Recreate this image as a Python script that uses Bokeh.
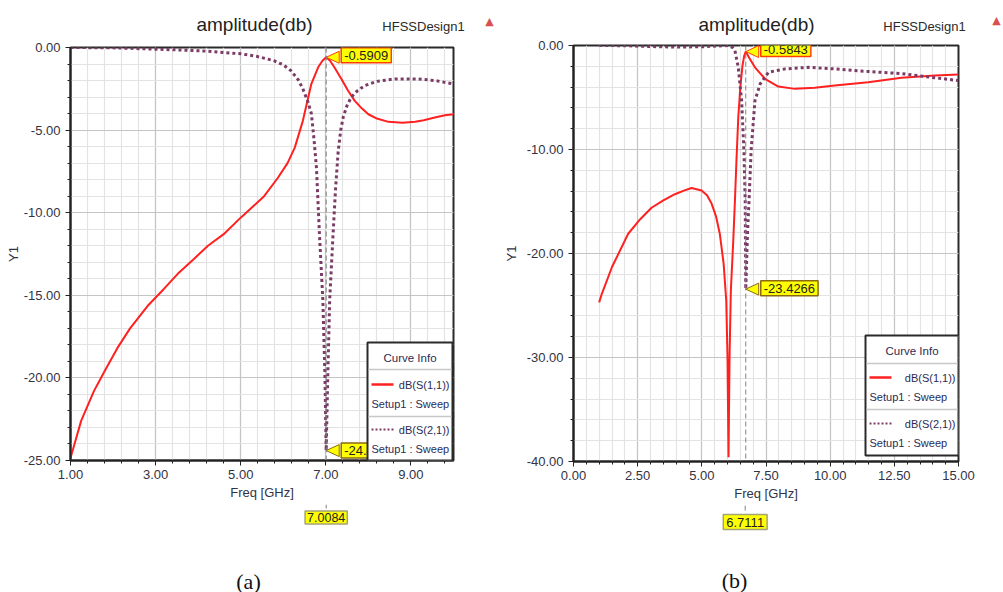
import numpy as np
from math import pi
from bokeh.plotting import figure
from bokeh.models import Plot, Range1d, FixedTicker, NumeralTickFormatter, Label, Arrow, BoxAnnotation
from bokeh.layouts import row, column
from bokeh.embed import file_html
from bokeh.resources import INLINE

# ---------------- data: panel (a) ----------------
a_freq_s11 = [1.0, 1.25, 1.55, 1.8, 2.1, 2.4, 2.81, 3.2, 3.52, 3.9, 4.23, 4.6, 5.0, 5.3, 5.55,
              5.87, 6.1, 6.27, 6.46, 6.66, 6.82, 6.92, 7.0084, 7.1, 7.2, 7.37, 7.52, 7.68, 7.85,
              8.0, 8.2, 8.47, 8.8, 9.1, 9.3, 9.56, 9.8, 10.0]
a_s11 = [-24.85, -22.6, -20.8, -19.6, -18.2, -17.0, -15.65, -14.6, -13.7, -12.8, -12.0, -11.3,
         -10.3, -9.6, -9.0, -7.9, -7.0, -6.06, -4.44, -2.2, -1.2, -0.8, -0.5909, -0.8, -1.2,
         -1.92, -2.6, -3.23, -3.7, -4.04, -4.3, -4.5, -4.55, -4.5, -4.4, -4.24, -4.1, -4.04]
a_freq_s21 = [1.0, 2.0, 3.0, 4.07, 5.0, 5.4, 5.78, 6.0, 6.18, 6.35, 6.46, 6.58, 6.66, 6.72, 6.78,
              6.85, 6.93, 6.98, 7.0084, 7.04, 7.09, 7.17, 7.23, 7.29, 7.35, 7.41, 7.5, 7.6, 7.75,
              7.92, 8.2, 8.62, 9.15, 9.56, 10.0]
a_s21 = [0.0, -0.02, -0.1, -0.2, -0.38, -0.55, -0.8, -1.05, -1.4, -1.95, -2.5, -3.3, -4.0, -5.5,
         -7.3, -11.3, -15.3, -20.0, -24.4, -20.5, -15.3, -11.3, -8.5, -6.3, -5.0, -4.2, -3.5,
         -3.0, -2.6, -2.3, -2.05, -1.9, -1.9, -2.0, -2.2]
a_marker_freq = 7.0084
a_marker_s11 = -0.5909
a_marker_s21 = -24.4
a_x_ticks = [1, 3, 5, 7, 9]
a_y_ticks = [0, -5, -10, -15, -20, -25]

# ---------------- data: panel (b) ----------------
b_freq_s11 = [1.0, 1.1, 1.5, 2.13, 2.6, 3.04, 3.5, 3.95, 4.3, 4.6, 4.99, 5.2, 5.38, 5.55, 5.7,
              5.85, 5.95, 6.0, 6.04, 6.08, 6.13, 6.22, 6.29, 6.35, 6.42, 6.5, 6.58, 6.65, 6.7111,
              6.85, 7.07, 7.46, 7.98, 8.63, 9.4, 10.18, 11.48, 12.78, 14.08, 15.0]
b_s11 = [-24.7, -23.9, -21.3, -18.1, -16.7, -15.6, -14.9, -14.3, -13.95, -13.7, -13.95, -14.4,
         -15.2, -16.4, -18.1, -21.0, -24.5, -30.0, -39.6, -30.0, -23.6, -19.0, -14.9, -11.0,
         -6.9, -4.0, -2.0, -1.0, -0.5843, -1.2, -2.1, -3.2, -3.95, -4.17, -4.07, -3.85, -3.53,
         -3.1, -2.89, -2.8]
b_freq_s21 = [1.0, 2.0, 3.0, 4.0, 5.0, 5.6, 6.03, 6.2, 6.29, 6.42, 6.55, 6.64, 6.69, 6.7111,
              6.78, 6.84, 6.92, 7.07, 7.27, 7.6, 8.24, 9.15, 10.18, 11.48, 12.78, 14.08, 15.0]
b_s21 = [0.0, -0.02, -0.1, -0.15, -0.12, -0.05, 0.0, -0.2, -0.5, -2.1, -5.3, -10.1, -15.0,
         -23.4266, -18.0, -14.9, -10.1, -5.3, -3.7, -2.57, -2.25, -2.1, -2.25, -2.5, -2.7,
         -3.1, -3.37]
b_marker_freq = 6.7111
b_marker_s11 = -0.5843
b_marker_s21 = -23.4266
b_x_ticks = [0, 2.5, 5, 7.5, 10, 12.5, 15]
b_y_ticks = [0, -10, -20, -30, -40]

FONT = "Liberation Sans"
TXT = "#333344"
NAVY = "#2b2b55"
RED = "#ff2020"
PURPLE = "#7a3c66"
FA = {"frame_align": False} if "frame_align" in Plot.properties() else {}


def lab(p, x, y, text, size, color=TXT, align="center", base="middle", font=FONT, angle=0.0,
        units="screen", **kw):
    p.add_layout(Label(x=x, y=y, x_units=units, y_units=units, text=text,
                       text_font=font, text_font_size=f"{size}px", text_color=color,
                       text_align=align, text_baseline=base, angle=angle, **kw))


def seg(p, x0, y0, x1, y1, color, width=1.0, dash="solid", units="screen"):
    p.add_layout(Arrow(end=None, x_start=x0, y_start=y0, x_end=x1, y_end=y1,
                       start_units=units, end_units=units, line_color=color,
                       line_width=width, line_dash=dash))


def strip(width, height, xr):
    s = figure(width=width, height=height, output_backend="svg", toolbar_location=None,
               x_range=Range1d(*xr), y_range=Range1d(0, height),
               x_axis_type=None, y_axis_type=None,
               min_border_left=0, min_border_right=0, min_border_top=0, min_border_bottom=0,
               outline_line_color=None, background_fill_color="white", border_fill_color="white",
               **FA)
    s.grid.visible = False
    return s


def panel(width, top_h, bot_h, mb, fh, xr, yr, xt, xminor_step, yt, yminor_step,
          f11, s11, f21, s21, mfreq, m11, m21, m21_text, geo):
    fw = width - mb[0] - mb[1]
    pxx = fw / (xr[1] - xr[0])
    pxy = fh / (yr[1] - yr[0])
    main_h = mb[2] + fh + mb[3]
    p = figure(width=width, height=main_h, output_backend="svg", toolbar_location=None,
               x_range=Range1d(*xr), y_range=Range1d(*yr),
               min_border_left=mb[0], min_border_right=mb[1],
               min_border_top=mb[2], min_border_bottom=mb[3],
               background_fill_color="white", border_fill_color="white",
               outline_line_color="#2a2a2a", outline_line_width=2, **FA)
    xtick = FixedTicker(ticks=xt, minor_ticks=list(np.arange(xr[0], xr[1] + 1e-6, xminor_step)))
    ytick = FixedTicker(ticks=yt, minor_ticks=list(np.arange(yr[0], yr[1] + 1e-6, yminor_step)))
    p.xaxis.ticker = xtick
    p.yaxis.ticker = ytick
    p.xgrid.ticker = xtick
    p.ygrid.ticker = ytick
    for ax in (p.xaxis[0], p.yaxis[0]):
        ax.formatter = NumeralTickFormatter(format="0.00")
        ax.axis_line_color = "#222222"
        ax.axis_line_width = 2
        ax.major_tick_line_color = "#222222"
        ax.minor_tick_line_color = "#222222"
        ax.major_tick_in = 0
        ax.major_tick_out = 5
        ax.minor_tick_in = 0
        ax.minor_tick_out = 3
        ax.major_label_text_font = FONT
        ax.major_label_text_font_size = "13px"
        ax.major_label_text_color = TXT
        ax.major_label_standoff = 5
        ax.axis_label_text_font = FONT
        ax.axis_label_text_font_size = "13px"
        ax.axis_label_text_font_style = "normal"
        ax.axis_label_text_color = TXT
    p.xaxis.major_label_standoff = 4
    p.xaxis.axis_label = "Freq [GHz]"
    p.xaxis.axis_label_standoff = 3
    p.yaxis.axis_label = "Y1"
    p.yaxis.axis_label_standoff = geo["y1_standoff"]
    for g in (p.xgrid[0], p.ygrid[0]):
        g.grid_line_color = "#c4c4c4"
        g.grid_line_width = 1.2
        g.minor_grid_line_color = "#e3e3e3"
        g.minor_grid_line_width = 1.2

    p.line(f11, s11, line_color=RED, line_width=2)
    p.line(f21, s21, line_color=PURPLE, line_width=3, line_dash="3 3")

    # marker line inside the frame
    seg(p, mfreq, yr[1], mfreq, yr[0], "#808080", 1, "5 3", units="data")

    # pointer triangles + callouts
    for val, txt, border, yoff in ((m11, f"{m11:.4f}", "#ff4000", geo["yoff11"]),
                                   (m21, m21_text, "#8b6914", geo["yoff21"])):
        p.patch([mfreq, mfreq + 13 / pxx, mfreq + 13 / pxx],
                [val, val + 6 / pxy, val - 6 / pxy],
                fill_color="#ffff00", line_color=border, line_width=1)
        p.add_layout(Label(x=mfreq, y=val, text=txt, x_offset=15, y_offset=yoff,
                           text_font=FONT, text_font_size="13px", text_color="#222222",
                           text_align="left", text_baseline="middle",
                           background_fill_color="#ffff00", border_line_color=border,
                           border_line_width=1.5, padding=3))

    # legend (kept inside the frame)
    L, B, T = geo["leg"]
    R = fw - 1
    p.add_layout(BoxAnnotation(left=L, right=R, bottom=B, top=T, left_units="screen",
                               right_units="screen", bottom_units="screen", top_units="screen",
                               fill_color="white", fill_alpha=1.0, line_color="#2a2a2a",
                               line_width=2, line_alpha=1.0))
    ys = geo["leg_y"]
    lab(p, (L + R) / 2, ys[0], "Curve Info", 11.5, NAVY)
    seg(p, L + 1, ys[1], R - 1, ys[1], "#c8c8c8", 1.5)
    seg(p, L + 4, ys[2], L + 26, ys[2], RED, 2.5)
    lab(p, R - 3, ys[2], "dB(S(1,1))", 11, NAVY, align="right")
    lab(p, L + 4, ys[3], "Setup1 : Sweep", 11, NAVY, align="left")
    seg(p, L + 1, ys[4], R - 1, ys[4], "#c8c8c8", 1.5)
    seg(p, L + 4, ys[5], L + 26, ys[5], PURPLE, 2, "2 2")
    lab(p, R - 3, ys[5], "dB(S(2,1))", 11, NAVY, align="right")
    lab(p, L + 4, ys[6], "Setup1 : Sweep", 11, NAVY, align="left")

    # top strip: title texts
    top = strip(width, top_h, (0, width))
    lab(top, geo["title"][0], geo["title"][1], "amplitude(db)", 19, "#222222")
    lab(top, geo["hfss"][0], geo["hfss"][1], "HFSSDesign1", 13, "#2a2a2a")
    lab(top, geo["icon"][0], geo["icon"][1], "▲", 11, "#d85050", font="DejaVu Sans")

    # bottom strip: marker value and caption (x scale aligned with the main frame)
    sx0 = xr[0] - mb[0] / pxx
    bot = strip(width, bot_h, (sx0, sx0 + width / pxx))
    box_top, box_c, fs, pad = geo["xbox"]
    seg(bot, mfreq, bot_h, mfreq, bot_h - box_top, "#808080", 1, "5 3", units="data")
    bot.add_layout(Label(x=mfreq, y=bot_h - box_c, x_units="data", y_units="screen",
                         text=f"{mfreq:.4f}", text_font=FONT, text_font_size=f"{fs}px",
                         text_color="#222222", text_align="center", text_baseline="middle",
                         background_fill_color="#ffff00", border_line_color="#a3a37a",
                         border_line_width=1.5, padding=pad))
    lab(bot, geo["cap"][0], geo["cap"][1], geo["cap_text"], 22, "#111111", base="top",
        font="Liberation Serif")
    return column(top, p, bot)


geo_a = dict(title=(254, 15), hfss=(423, 13), icon=(489, 18), cap=(248, 24), cap_text="(a)",
             leg=(297, 0, 118), leg_y=(103, 91, 76, 57, 44, 31, 12), xbox=(4, 13, 12.5, 2),
             yoff11=2, yoff21=0, y1_standoff=0)
geo_b = dict(title=(256, 13), hfss=(424, 11), icon=(496, 17), cap=(234, 25), cap_text="(b)",
             leg=(292, 6, 126), leg_y=(111, 98, 84, 65, 52, 38, 19), xbox=(5, 16.5, 13, 3),
             yoff11=2.5, yoff21=1, y1_standoff=5)

pa = panel(500, 39, 88, (70, 47, 8, 44), 413, (1, 10), (-25, 0), a_x_ticks, 0.4, a_y_ticks, 1,
           a_freq_s11, a_s11, a_freq_s21, a_s21, a_marker_freq, a_marker_s11, a_marker_s21,
           "-24.4", geo_a)
pb = panel(503, 37, 87, (72, 45, 8, 44), 416, (0, 15), (-40, 0), b_x_ticks, 0.5, b_y_ticks, 2,
           b_freq_s11, b_s11, b_freq_s21, b_s21, b_marker_freq, b_marker_s11, b_marker_s21,
           f"{b_marker_s21:.4f}", geo_b)

layout = row(pa, pb)
open("out.html", "w").write(file_html(layout, INLINE))
